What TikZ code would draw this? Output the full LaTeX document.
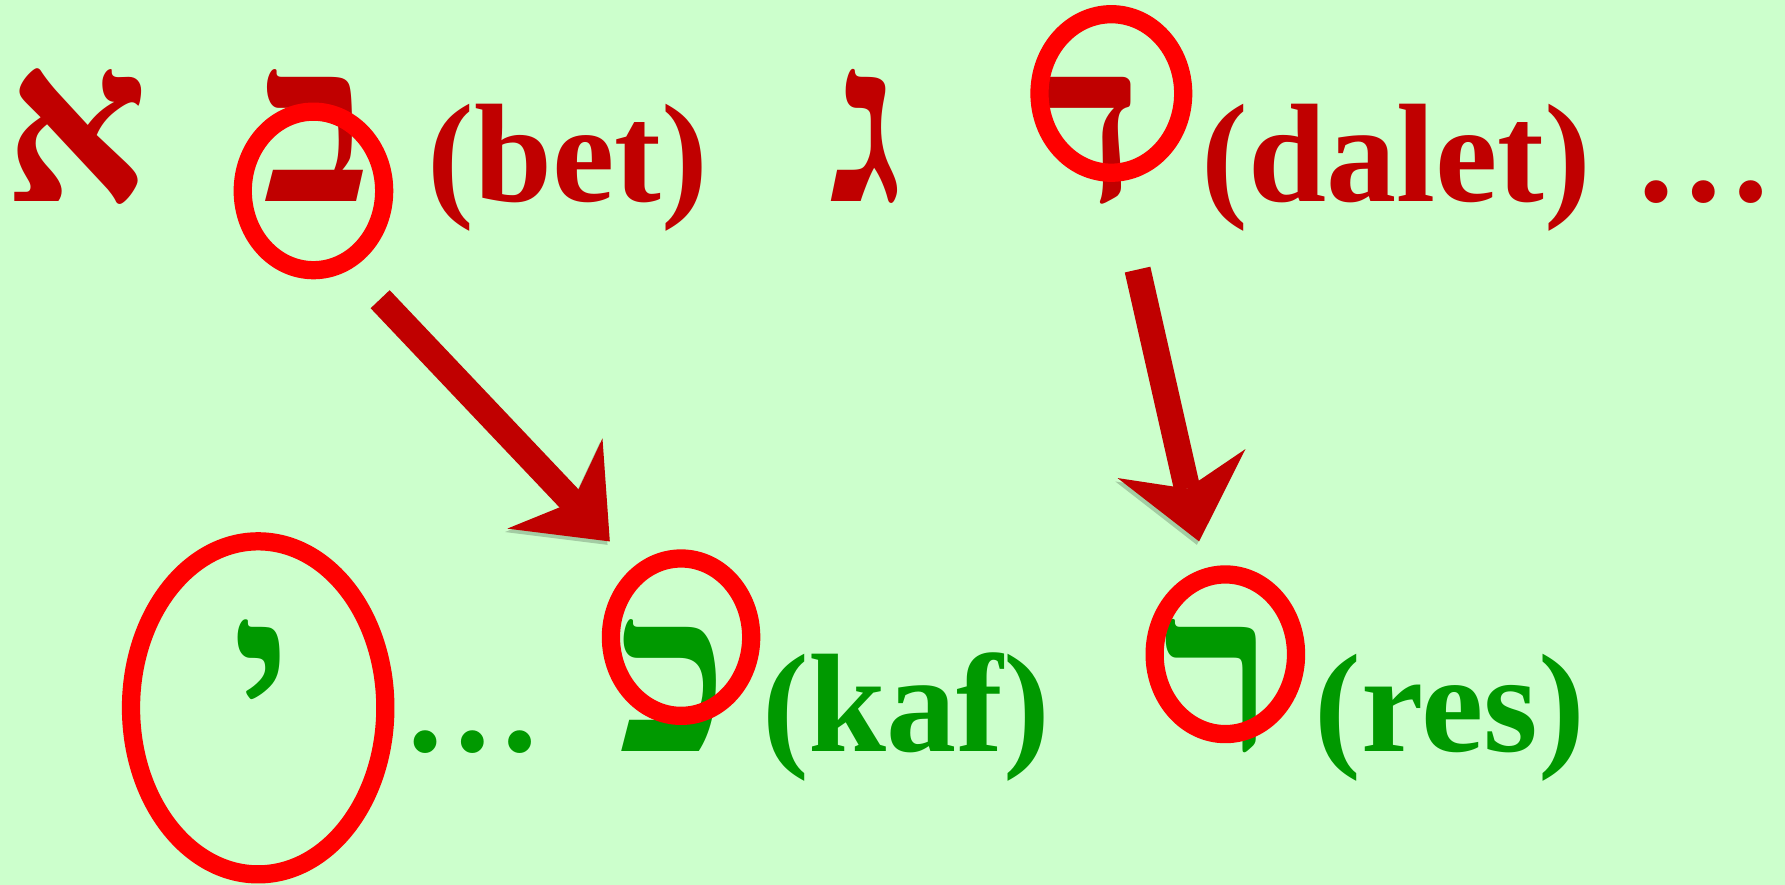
\documentclass[tikz,border=0pt]{standalone}
\usepackage{fontspec}
\setmainfont{Liberation Serif}
\usetikzlibrary{arrows.meta}
\usetikzlibrary{shapes.geometric}
\definecolor{paleground}{RGB}{204,255,204}
\definecolor{darkred}{RGB}{192,0,0}
\definecolor{leafgreen}{RGB}{0,153,0}
\tikzstyle{latin}=[font=\fontsize{35}{42}\selectfont\bfseries]
\tikzstyle{heb}=[font=\fontsize{56}{60}\selectfont\bfseries]
\tikzstyle{topletter}=[anchor=base,inner sep=0pt,text=darkred]
\tikzstyle{botletter}=[topletter,text=leafgreen]
\tikzstyle{ring}=[ellipse,draw=red,line width=0.16cm,inner sep=0pt]
\tikzstyle{bigarrow}=[draw=darkred,line width=0.23cm,
  -{Stealth[length=0.7cm,width=1.15cm,inset=0.225cm,line width=0pt]},
  preaction={draw=black,opacity=0.2,transform canvas={shift={(-0.02cm,-0.03cm)}}}]

\begin{document}
\begin{tikzpicture}[x=0.01cm,y=-0.01cm]

\fill[paleground] (0,0) rectangle (1566,776);
\useasboundingbox (0,0) rectangle (1566,776);

% alef bet gimel dalet
  \foreach \pos/\name/\label/\kind in {{(67,177)/alef/א/heb}, {(278,177)/bet/ב/heb}, {(498,177)/betname/(bet)/latin},
      {(760,177)/gimel/ג/heb}, {(954,177)/dalet/ד/heb}, {(1225,177)/daletname/(dalet)/latin}, {(1495,177)/topdots/…/latin}}
        \node[topletter,\kind] (\name) at \pos {\label};

% yod ... kaf res
  \foreach \pos/\name/\label/\kind in {{(230,659)/yod/י/heb}, {(415,659)/botdots/…/latin}, {(591,659)/kaf/כ/heb},
      {(795,659)/kafname/(kaf)/latin}, {(1069,659)/resh/ר/heb}, {(1272,659)/resname/(res)/latin}}
        \node[botletter,\kind] (\name) at \pos {\label};

% circled parts
  \foreach \pos/\name/\rw/\rh in {{(275,167.5)/betring/1.24cm/1.39cm}, {(975,82)/daletring/1.26cm/1.39cm},
      {(226.5,621)/yodring/2.23cm/2.92cm}, {(597.5,559)/kafring/1.23cm/1.38cm}, {(1075,574)/resring/1.24cm/1.40cm}}
        \node[ring,minimum width=\rw,minimum height=\rh] (\name) at \pos {};

    \coordinate (betfrom) at (333.5,262.5);
    \coordinate (kafto) at (535,475);
    \coordinate (daletfrom) at (998,236.5);
    \coordinate (resto) at (1052,475);

   \foreach \source/\dest in {betfrom/kafto, daletfrom/resto}
          \draw[bigarrow] (\source) -- (\dest);

\end{tikzpicture}
\end{document}
